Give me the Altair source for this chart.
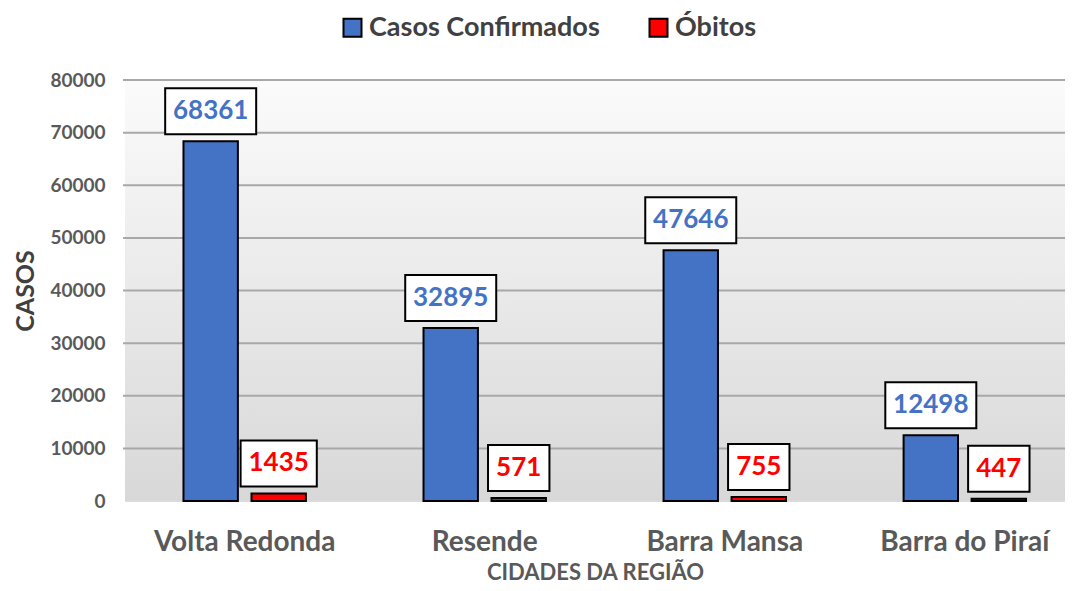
import altair as alt
import pandas as pd

cidades = ["Volta Redonda", "Resende", "Barra Mansa", "Barra do Piraí"]
casos = [68361, 32895, 47646, 12498]
obitos = [1435, 571, 755, 447]
series = ["Casos Confirmados", "Óbitos"]
cores = ["#4472C4", "#FF0000"]
y_ticks = [0, 10000, 20000, 30000, 40000, 50000, 60000, 70000, 80000]

W, H = 940, 421
FONT = "Lato"

rows = []
for c, a, b in zip(cidades, casos, obitos):
    rows.append({"cidade": c, "serie": series[0], "valor": a})
    rows.append({"cidade": c, "serie": series[1], "valor": b})
df = pd.DataFrame(rows)

# label box outline as a custom symbol path (unit = 50 px when size=10000)
def box_path(v):
    w = 14.8 * len(str(v)) + 17
    hw = w / 2 / 50
    return f"M{-hw:.3f},-1.06L{hw:.3f},-1.06L{hw:.3f},-0.14L{-hw:.3f},-0.14Z"

df["box"] = df["valor"].apply(box_path)

yscale = alt.Scale(domain=[0, 80000], nice=False, zero=True)
xscale = alt.Scale(paddingInner=0.49, paddingOuter=0.203, align=0.6)
xoff_scale = alt.Scale(paddingInner=0.2, paddingOuter=0)

x_axis = alt.Axis(title="CIDADES DA REGIÃO", labelAngle=0, domain=False, ticks=False,
                  labelFont=FONT, labelFontSize=28, labelFontWeight="bold",
                  labelColor="#595959", labelPadding=27, labelLimit=0,
                  titleFont=FONT, titleFontSize=22, titleFontWeight="bold",
                  titleColor="#595959", titlePadding=6)
y_axis = alt.Axis(title="CASOS", values=y_ticks, format="d", grid=False,
                  domain=False, ticks=False,
                  labelFont=FONT, labelFontSize=19, labelFontWeight="bold",
                  labelColor="#595959", labelPadding=20,
                  titleFont=FONT, titleFontSize=25, titleFontWeight="bold",
                  titleColor="#404040", titlePadding=11)

X = alt.X("cidade:N", sort=cidades, scale=xscale, axis=x_axis, title="CIDADES DA REGIÃO")
XO = alt.XOffset("serie:N", sort=series, scale=xoff_scale)
Y = alt.Y("valor:Q", scale=yscale, axis=y_axis, title="CASOS")

bg = alt.Chart(alt.Data(values=[{}])).mark_rect(
    fill={"gradient": "linear", "x1": 0, "x2": 0, "y1": 0, "y2": 1,
          "stops": [{"offset": 0, "color": "#fbfbfb"},
                    {"offset": 1, "color": "#d8d8d8"}]}
).encode(x=alt.value(0), x2=alt.value(W), y=alt.value(0), y2=alt.value(H))

grid = alt.Chart(pd.DataFrame({"v": y_ticks[1:]})).mark_rule(
    color="#a8a8a8", strokeWidth=2
).encode(
    y=alt.Y("v:Q", scale=yscale, axis=y_axis, title="CASOS"),
    x=alt.value(-2), x2=alt.value(W),
)

base = alt.Chart(df)

bars = base.mark_bar(stroke="black", strokeWidth=2).encode(
    x=X, xOffset=XO, y=Y,
    color=alt.Color("serie:N", sort=series,
                    scale=alt.Scale(domain=series, range=cores),
                    legend=alt.Legend(title=None, orient="none", direction="horizontal",
                                      legendX=214, legendY=-66,
                                      symbolType="square", symbolSize=324,
                                      symbolStrokeColor="black", symbolStrokeWidth=2,
                                      symbolOpacity=1, labelLimit=0,
                                      labelFont=FONT, labelFontSize=27,
                                      labelFontWeight="bold", labelColor="#404040",
                                      labelOffset=3, columnPadding=45, padding=0)),
)

boxes = base.mark_point(filled=True, fill="white", stroke="black", strokeWidth=2,
                        opacity=1, size=10000).encode(
    x=X, xOffset=XO, y=Y,
    shape=alt.Shape("box:N", scale=None, legend=None),
)

labels = base.mark_text(font=FONT, fontSize=26, fontWeight="bold",
                        baseline="middle", dy=-30).encode(
    x=X, xOffset=XO, y=Y,
    text=alt.Text("valor:Q", format="d"),
    color=alt.condition("datum.serie == 'Óbitos'", alt.value("#FF0000"), alt.value("#4472C4")),
)

chart = alt.layer(bg, grid, bars, boxes, labels).properties(
    width=W, height=H,
    autosize=alt.AutoSizeParams(type="none"),
    padding={"left": 117, "top": 72, "right": 0, "bottom": 82},
).configure_view(stroke=None).configure(background="white")

chart.save("out.html", embed_options={"renderer": "svg", "actions": False})
